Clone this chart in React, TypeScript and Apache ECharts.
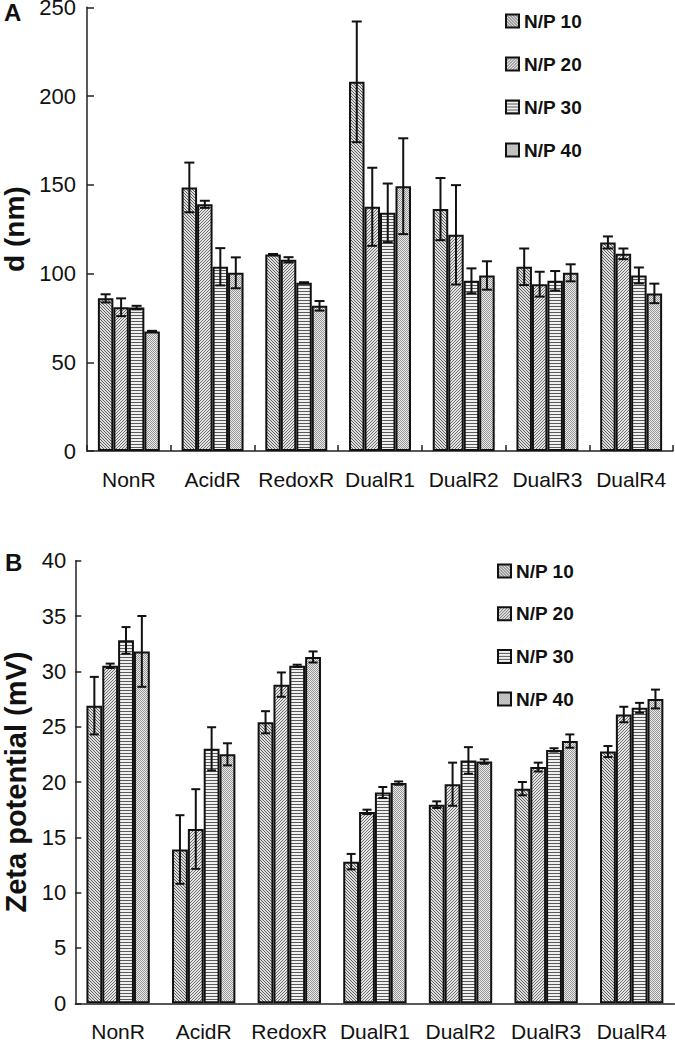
import React, { useEffect, useRef } from "react";
import * as echarts from "echarts";

const categories = ["NonR", "AcidR", "RedoxR", "DualR1", "DualR2", "DualR3", "DualR4"];
const seriesNames = ["N/P 10", "N/P 20", "N/P 30", "N/P 40"];

// Panel A: particle size d (nm)
const sizeNP10 = [86, 148.5, 110.7, 208, 136.3, 103.8, 117.5];
const sizeNP20 = [81, 139, 107.7, 137.6, 121.8, 94, 111.1];
const sizeNP30 = [80.8, 103.8, 94.8, 134.2, 95.9, 95.9, 98.9];
const sizeNP40 = [67.4, 100.4, 81.8, 149.2, 98.9, 100.4, 88.8];
const sizeErr10 = [2.3, 14, 0.3, 34, 17.5, 10.3, 3.4];
const sizeErr20 = [5, 2, 1.5, 22, 28, 7, 3];
const sizeErr30 = [1, 10.5, 0.3, 16.5, 7, 5.5, 4.5];
const sizeErr40 = [0.3, 8.7, 2.7, 27, 8, 4.8, 5.5];

// Panel B: zeta potential (mV)
const zetaNP10 = [26.9, 13.9, 25.4, 12.8, 17.95, 19.4, 22.75];
const zetaNP20 = [30.5, 15.75, 28.8, 17.3, 19.8, 21.35, 26.1];
const zetaNP30 = [32.8, 23, 30.5, 19.05, 21.95, 22.9, 26.7];
const zetaNP40 = [31.8, 22.5, 31.3, 19.9, 21.85, 23.7, 27.5];
const zetaErr10 = [2.6, 3.1, 1.0, 0.7, 0.3, 0.6, 0.5];
const zetaErr20 = [0.2, 3.6, 1.1, 0.2, 1.95, 0.4, 0.7];
const zetaErr30 = [1.2, 1.95, 0.1, 0.5, 1.2, 0.15, 0.45];
const zetaErr40 = [3.2, 1.0, 0.5, 0.15, 0.2, 0.6, 0.85];

const sizeTicks = { min: 0, max: 250, interval: 50 };
const zetaTicks = { min: 0, max: 40, interval: 5 };

const FONT = "'Liberation Sans', Arial, Helvetica, sans-serif";
const CAT_GAP = 0.26;

function makePattern(kind: number): HTMLCanvasElement {
  const n = 6;
  const c = document.createElement("canvas");
  c.width = n;
  c.height = n;
  const ctx = c.getContext("2d")!;
  const img = ctx.createImageData(n, n);
  for (let y = 0; y < n; y++) {
    for (let x = 0; x < n; x++) {
      let v = 232;
      if (kind === 0) v = ((x - y + 60) % 3 === 0) ? 95 : 222;
      else if (kind === 1) v = ((x + y) % 3 === 0) ? 110 : 228;
      else if (kind === 2) v = (y % 3 === 0) ? 90 : 240;
      else v = ((x + y) % 2 === 0) ? 150 : 235;
      const i = (y * n + x) * 4;
      img.data[i] = v;
      img.data[i + 1] = v;
      img.data[i + 2] = v;
      img.data[i + 3] = 255;
    }
  }
  ctx.putImageData(img, 0, 0);
  return c;
}

function errRenderer(k: number, cap: number) {
  return (params: any, api: any) => {
    const ci = api.value(0);
    const v = api.value(1);
    const e = api.value(2);
    const catW = api.size([1, 0])[0];
    const bw = (catW * (1 - CAT_GAP)) / 4;
    const x = api.coord([ci, v])[0] + (k - 1.5) * bw;
    const yHi = api.coord([ci, v + e])[1];
    const yLo = api.coord([ci, v - e])[1];
    const st = { stroke: "#111", lineWidth: 2 };
    return {
      type: "group",
      children: [
        { type: "line", shape: { x1: x, y1: yHi, x2: x, y2: yLo }, style: st },
        { type: "line", shape: { x1: x - cap / 2, y1: yHi, x2: x + cap / 2, y2: yHi }, style: st },
        { type: "line", shape: { x1: x - cap / 2, y1: yLo, x2: x + cap / 2, y2: yLo }, style: st },
      ],
    };
  };
}

export default function App() {
  const ref = useRef<HTMLDivElement>(null);
  useEffect(() => {
    if (!ref.current) return;
    const chart = echarts.init(ref.current, undefined, { renderer: "svg" });
    const patterns = [0, 1, 2, 3].map((k) => ({ image: makePattern(k), repeat: "repeat" }));

    const sizeVals = [sizeNP10, sizeNP20, sizeNP30, sizeNP40];
    const sizeErrs = [sizeErr10, sizeErr20, sizeErr30, sizeErr40];
    const zetaVals = [zetaNP10, zetaNP20, zetaNP30, zetaNP40];
    const zetaErrs = [zetaErr10, zetaErr20, zetaErr30, zetaErr40];

    const series: any[] = [];
    [0, 1].forEach((g) => {
      const vals = g === 0 ? sizeVals : zetaVals;
      const errs = g === 0 ? sizeErrs : zetaErrs;
      seriesNames.forEach((name, k) => {
        series.push({
          name,
          type: "bar",
          xAxisIndex: g,
          yAxisIndex: g,
          data: vals[k],
          barGap: "0%",
          barCategoryGap: CAT_GAP * 100 + "%",
          itemStyle: { color: patterns[k], borderColor: "#111", borderWidth: 2 },
          emphasis: { disabled: true },
          z: 2,
        });
      });
      seriesNames.forEach((name, k) => {
        series.push({
          name: name + " err",
          type: "custom",
          xAxisIndex: g,
          yAxisIndex: g,
          renderItem: errRenderer(k, g === 0 ? 10 : 9),
          data: categories.map((_, i) => [i, vals[k][i], errs[k][i]]),
          z: 5,
          silent: true,
        });
      });
    });

    const axisLine = { show: true, lineStyle: { color: "#222", width: 1.5 } };
    const legendCommon = {
      orient: "vertical",
      data: seriesNames,
      icon: "rect",
      itemWidth: 13,
      itemHeight: 13,
      selectedMode: false,
      itemStyle: { borderColor: "#111", borderWidth: 2 },
      textStyle: {
        fontFamily: FONT,
        fontSize: 19,
        fontWeight: "bold",
        color: "#111",
        lineHeight: 20,
      },
    };

    chart.setOption({
      animation: false,
      backgroundColor: "#fff",
      grid: [
        { left: 87, top: 7.3, width: 586, height: 443.7, outerBoundsMode: "none", containLabel: false },
        { left: 75.3, top: 560.7, width: 599.2, height: 442.6, outerBoundsMode: "none", containLabel: false },
      ],
      legend: [
        { ...legendCommon, left: 500, top: 6, itemGap: 23 },
        { ...legendCommon, left: 492, top: 556, itemGap: 22.7 },
      ],
      xAxis: [
        {
          type: "category",
          gridIndex: 0,
          data: categories,
          axisLine,
          axisTick: { show: true, inside: true, length: 6, lineStyle: { color: "#222", width: 1.5 } },
          axisLabel: { fontFamily: FONT, fontSize: 21, color: "#111", margin: 18, interval: 0 },
        },
        {
          type: "category",
          gridIndex: 1,
          data: categories,
          axisLine,
          axisTick: { show: false },
          axisLabel: { fontFamily: FONT, fontSize: 21, color: "#111", margin: 18, interval: 0 },
        },
      ],
      yAxis: [
        {
          type: "value",
          gridIndex: 0,
          ...sizeTicks,
          name: "d (nm)",
          nameLocation: "middle",
          nameGap: 58,
          nameTextStyle: { fontFamily: FONT, fontSize: 28, fontWeight: "bold", color: "#111" },
          axisLine,
          axisTick: { show: true, inside: true, length: 7, lineStyle: { color: "#222", width: 1.5 } },
          splitLine: { show: false },
          axisLabel: {
            fontFamily: FONT,
            fontSize: 22,
            lineHeight: 14,
            padding: [5, 0, 0, 0],
            color: "#111",
            margin: 11,
          },
        },
        {
          type: "value",
          gridIndex: 1,
          ...zetaTicks,
          name: "Zeta potential (mV)",
          nameLocation: "middle",
          nameGap: 45,
          nameTextStyle: { fontFamily: FONT, fontSize: 29, lineHeight: 26, fontWeight: "bold", color: "#111" },
          axisLine,
          axisTick: { show: true, inside: true, length: 6, lineStyle: { color: "#222", width: 1.5 } },
          splitLine: { show: false },
          axisLabel: { fontFamily: FONT, fontSize: 22, color: "#111", margin: 9 },
        },
      ],
      graphic: [
        {
          type: "text",
          left: 4,
          top: 0,
          style: { text: "A", fontFamily: FONT, fontSize: 24, fontWeight: "bold", fill: "#111" },
        },
        {
          type: "text",
          left: 5,
          top: 550,
          style: { text: "B", fontFamily: FONT, fontSize: 24, fontWeight: "bold", fill: "#111" },
        },
      ],
      series,
    });
    return () => chart.dispose();
  }, []);
  return (
    <div
      ref={ref}
      style={{ position: "absolute", left: 0, top: 0, width: 675, height: 1042 }}
    />
  );
}
